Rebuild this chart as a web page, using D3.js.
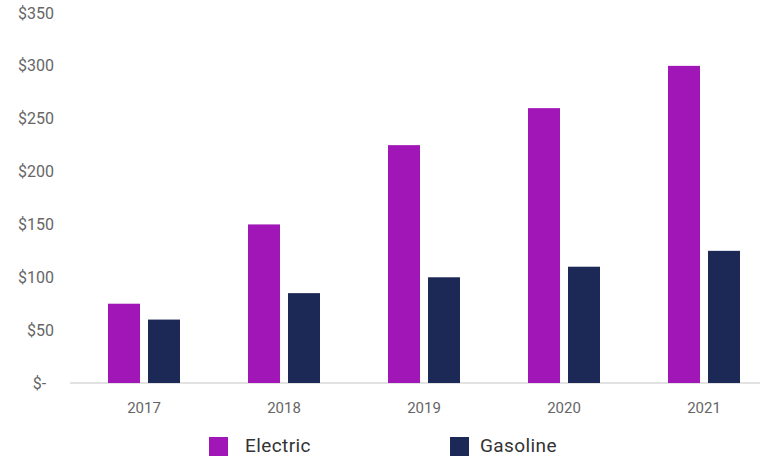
<!DOCTYPE html>
<html>
<head>
<meta charset="utf-8">
<script src="https://cdn.jsdelivr.net/npm/d3@7"></script>
<style>
  body { margin: 0; background: #fff; }
  svg { display: block; font-family: Roboto, "Noto Sans", sans-serif; }
</style>
</head>
<body>
<svg id="chart" width="760" height="457"></svg>
<script>
// Average cost per year, electric vs gasoline
const years = ["2017", "2018", "2019", "2020", "2021"];
const seriesNames = ["Electric", "Gasoline"];
const electric = [75, 150, 225, 260, 300];
const gasoline = [60, 85, 100, 110, 125];
const yTicks = [0, 50, 100, 150, 200, 250, 300, 350];
const colors = ["#a116b7", "#1c2856"];

const svg = d3.select("#chart");

const x = d3.scaleBand().domain(years).range([74, 774]).paddingInner(0).paddingOuter(0);
const y = d3.scaleLinear().domain([0, 350]).range([383, 13]);
const barW = 32, gap = 8;
const inner = d3.scaleBand().domain(seriesNames)
  .range([-(barW + gap / 2), barW + gap / 2]).paddingInner(gap / (barW + gap)).paddingOuter(0);

// y axis labels (no axis line)
const yAxis = d3.axisLeft(y).tickValues(yTicks).tickSize(0).tickPadding(0)
  .tickFormat(d => d === 0 ? "$-\u00a0\u00a0" : "$" + d);
const gy = svg.append("g").attr("transform", "translate(54,0)").call(yAxis);
gy.select(".domain").remove();
gy.selectAll("text").attr("fill", "#666").style("font-size", "16px").style("font-family", "Roboto, sans-serif");

// baseline
svg.append("line")
  .attr("x1", 70).attr("x2", 760)
  .attr("y1", y(0)).attr("y2", y(0))
  .attr("stroke", "#d9d9d9").attr("stroke-width", 1.5);

// bars
const data = years.map((yr, i) => ({ year: yr, values: [electric[i], gasoline[i]] }));
const groups = svg.append("g").selectAll("g").data(data).join("g")
  .attr("transform", d => `translate(${x(d.year) + x.bandwidth() / 2},0)`);
groups.selectAll("rect")
  .data(d => d.values.map((v, j) => ({ name: seriesNames[j], value: v, j })))
  .join("rect")
  .attr("x", d => inner(d.name))
  .attr("width", inner.bandwidth())
  .attr("y", d => y(d.value))
  .attr("height", d => y(0) - y(d.value))
  .attr("fill", d => colors[d.j]);

// x axis labels
const xAxis = d3.axisBottom(x).tickSize(0).tickPadding(0);
const gx = svg.append("g").attr("transform", `translate(0,${y(0) + 19})`).call(xAxis);
gx.select(".domain").remove();
gx.selectAll("text").attr("fill", "#666").style("font-size", "15px").style("font-family", "Roboto, sans-serif");

// legend
const legendX = [209, 450];
const legendTextX = [36, 30];
const lg = svg.append("g").selectAll("g").data(seriesNames).join("g")
  .attr("transform", (d, i) => `translate(${legendX[i]},437)`);
lg.append("rect").attr("width", 19).attr("height", 19).attr("fill", (d, i) => colors[i]);
lg.append("text").attr("x", (d, i) => legendTextX[i]).attr("y", 15)
  .attr("fill", "#333").style("font-size", "19px").style("letter-spacing", "0.4px").text(d => d);
</script>
</body>
</html>
